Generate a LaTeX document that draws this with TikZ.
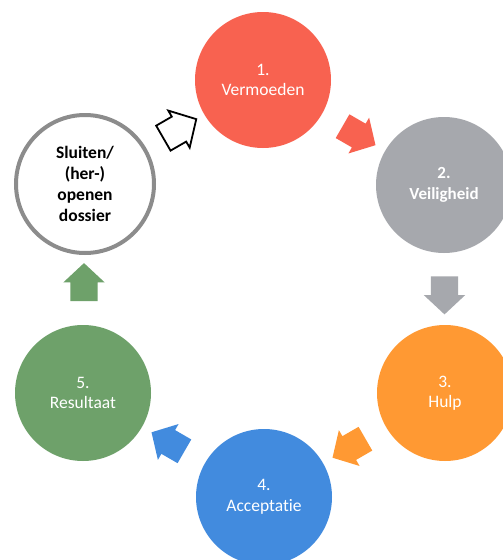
\documentclass[tikz,border=0pt]{standalone}
\usepackage{fontspec}
\setmainfont[Ligatures=NoCommon]{Carlito}
\usetikzlibrary{shapes.arrows,calc}

\definecolor{vermoeden}{RGB}{248,98,80}
\definecolor{veiligheid}{RGB}{166,168,173}
\definecolor{hulp}{RGB}{255,153,51}
\definecolor{acceptatie}{RGB}{66,139,222}
\definecolor{resultaat}{RGB}{110,161,106}
\definecolor{rand}{RGB}{140,140,140}

\begin{document}
\begin{tikzpicture}[x=1pt,y=-1pt,
		main node/.style={circle,minimum size=136pt,inner sep=0pt,align=center,
			text=white,font=\fontsize{17.5}{20.5}\selectfont},
		blok pijl/.style={single arrow,minimum height=38pt,minimum width=41pt,
			single arrow head extend=7pt,single arrow tip angle=94,
			inner xsep=0pt,inner ysep=13.5pt}]
	\useasboundingbox[fill=white] (0,0) rectangle (503,560);
	\node[main node,fill=vermoeden] (1) at (263,80) {1.\\Vermoeden};
	\node[main node,fill=veiligheid,font=\bfseries\fontsize{17}{20.5}\selectfont] (2) at (444,185) {2.\\Veiligheid};
	\node[main node,fill=hulp] (3) at (445,393) {3.\\Hulp};
	\node[main node,fill=acceptatie] (4) at (264,497) {4.\\Acceptatie};
	\node[main node,fill=resultaat] (5) at (83,393) {5.\\Resultaat};
	\node[main node,minimum size=138pt,draw=rand,line width=4pt,fill=white,text=black,
		font=\bfseries\fontsize{17.5}{21}\selectfont] (0) at (85,184) {Sluiten/\\(her-)\\openen\\dossier};
	\node[blok pijl,fill=vermoeden,rotate=-30] (p12) at ($(1)!0.5!(2)$) {};
	\node[blok pijl,fill=veiligheid,rotate=-90] (p23) at ($(2)!0.5!(3)$) {};
	\node[blok pijl,fill=hulp,rotate=210] (p34) at ($(3)!0.5!(4)$) {};
	\node[blok pijl,fill=acceptatie,rotate=150] (p45) at ($(4)!0.5!(5)$) {};
	\node[blok pijl,fill=resultaat,rotate=90] (p50) at ($(5)!0.5!(0)$) {};
	\node[blok pijl,draw=black,line width=1.8pt,fill=white,rotate=30] (p01) at ($(0)!0.5!(1)$) {};
\end{tikzpicture}
\end{document}
